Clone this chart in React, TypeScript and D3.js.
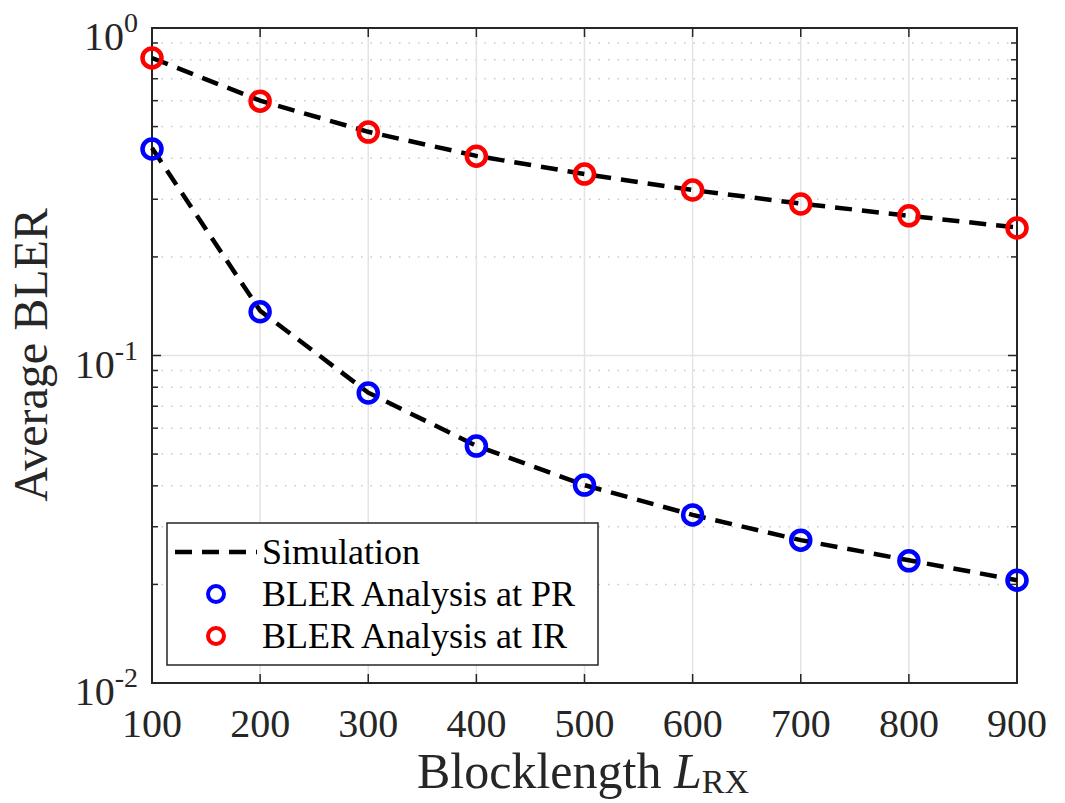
import { useRef, useEffect } from 'react';
import * as d3 from 'd3';

const blocklengths = [100, 200, 300, 400, 500, 600, 700, 800, 900];
const simPR = [0.43, 0.137, 0.077, 0.053, 0.0402, 0.0326, 0.0273, 0.0237, 0.0206];
const simIR = [0.81, 0.6, 0.482, 0.407, 0.358, 0.32, 0.291, 0.267, 0.246];
const analysisPR = [0.427, 0.136, 0.0768, 0.0529, 0.0402, 0.0326, 0.0273, 0.0236, 0.0206];
const analysisIR = [0.81, 0.598, 0.481, 0.406, 0.358, 0.32, 0.29, 0.267, 0.245];
const xTicks = [100, 200, 300, 400, 500, 600, 700, 800, 900];
const yDecades = [1, 0.1, 0.01];
const yExponents = ['0', '-1', '-2'];

export default function App() {
  const ref = useRef<SVGSVGElement>(null);

  useEffect(() => {
    const svg = d3.select(ref.current);
    svg.selectAll('*').remove();

    const W = 1065, H = 803;
    const left = 152, right = 1017, top = 28, bottom = 683;
    const font = 'Liberation Serif, DejaVu Serif, serif';
    const axisColor = '#262626';

    const x = d3.scaleLinear().domain([100, 900]).range([left, right]);
    const y = d3.scaleLog().domain([0.01, 1]).range([bottom, top]);

    svg.append('rect').attr('width', W).attr('height', H).attr('fill', '#fff');

    // minor grid (dotted) and minor ticks
    const minors: number[] = [];
    [0.01, 0.1].forEach(d => { for (let k = 2; k <= 9; k++) minors.push(d * k); });
    const g = svg.append('g');
    minors.forEach(v => {
      g.append('line').attr('x1', left).attr('x2', right).attr('y1', y(v)).attr('y2', y(v))
        .attr('stroke', '#c8c8c8').attr('stroke-width', 1.5).attr('stroke-dasharray', '1.5,8');
      g.append('line').attr('x1', left).attr('x2', left + 6).attr('y1', y(v)).attr('y2', y(v))
        .attr('stroke', axisColor).attr('stroke-width', 1.5);
      g.append('line').attr('x1', right).attr('x2', right - 6).attr('y1', y(v)).attr('y2', y(v))
        .attr('stroke', axisColor).attr('stroke-width', 1.5);
    });

    // major grid
    xTicks.forEach(t => {
      g.append('line').attr('x1', x(t)).attr('x2', x(t)).attr('y1', top).attr('y2', bottom)
        .attr('stroke', '#e3e3e3').attr('stroke-width', 1.5);
    });
    yDecades.forEach(t => {
      g.append('line').attr('x1', left).attr('x2', right).attr('y1', y(t)).attr('y2', y(t))
        .attr('stroke', '#e3e3e3').attr('stroke-width', 1.5);
    });

    // major ticks
    xTicks.forEach(t => {
      g.append('line').attr('x1', x(t)).attr('x2', x(t)).attr('y1', bottom).attr('y2', bottom - 9)
        .attr('stroke', axisColor).attr('stroke-width', 1.5);
      g.append('line').attr('x1', x(t)).attr('x2', x(t)).attr('y1', top).attr('y2', top + 9)
        .attr('stroke', axisColor).attr('stroke-width', 1.5);
    });
    yDecades.forEach(t => {
      g.append('line').attr('x1', left).attr('x2', left + 9).attr('y1', y(t)).attr('y2', y(t))
        .attr('stroke', axisColor).attr('stroke-width', 1.5);
      g.append('line').attr('x1', right).attr('x2', right - 9).attr('y1', y(t)).attr('y2', y(t))
        .attr('stroke', axisColor).attr('stroke-width', 1.5);
    });

    // box
    g.append('rect').attr('x', left).attr('y', top).attr('width', right - left).attr('height', bottom - top)
      .attr('fill', 'none').attr('stroke', axisColor).attr('stroke-width', 2);

    // simulation lines
    const line = d3.line<number>().x((_, i) => x(blocklengths[i])).y(d => y(d));
    [simIR, simPR].forEach(s => {
      svg.append('path').attr('d', line(s)).attr('fill', 'none').attr('stroke', '#000')
        .attr('stroke-width', 4.5).attr('stroke-dasharray', '17,10');
    });

    // analysis markers
    const markers = (vals: number[], color: string) => {
      vals.forEach((v, i) => {
        svg.append('circle').attr('cx', x(blocklengths[i])).attr('cy', y(v)).attr('r', 9.5)
          .attr('fill', 'none').attr('stroke', color).attr('stroke-width', 4.5);
      });
    };
    markers(analysisPR, '#0000ff');
    markers(analysisIR, '#ff0000');

    // x tick labels
    xTicks.forEach(t => {
      svg.append('text').attr('x', x(t)).attr('y', 737).attr('text-anchor', 'middle')
        .style('font-family', font).attr('font-size', 40).attr('fill', axisColor).text(t);
    });
    // y tick labels
    yDecades.forEach((t, i) => {
      const txt = svg.append('text').attr('x', left - 14).attr('y', y(t) + 22).attr('text-anchor', 'end')
        .style('font-family', font).attr('font-size', 40).attr('fill', axisColor);
      txt.append('tspan').text('10');
      txt.append('tspan').attr('dy', -18).attr('font-size', 28).text(yExponents[i]);
    });

    // axis labels
    const xl = svg.append('text').attr('x', 583).attr('y', 788).attr('text-anchor', 'middle')
      .style('font-family', font).attr('font-size', 50).attr('fill', axisColor);
    xl.append('tspan').text('Blocklength ');
    xl.append('tspan').attr('font-style', 'italic').text('L');
    xl.append('tspan').attr('dy', 5).attr('font-size', 34).text('RX');

    svg.append('text').attr('transform', `translate(47,355) rotate(-90)`)
      .attr('text-anchor', 'middle').style('font-family', font).attr('font-size', 48)
      .attr('fill', axisColor).text('Average BLER');

    // legend
    const lg = svg.append('g');
    lg.append('rect').attr('x', 167).attr('y', 523).attr('width', 431).attr('height', 142)
      .attr('fill', '#fff').attr('stroke', axisColor).attr('stroke-width', 1.5);
    lg.append('line').attr('x1', 175).attr('x2', 257).attr('y1', 552).attr('y2', 552)
      .attr('stroke', '#000').attr('stroke-width', 4.5).attr('stroke-dasharray', '17,10');
    lg.append('circle').attr('cx', 216).attr('cy', 594).attr('r', 8).attr('fill', 'none')
      .attr('stroke', '#0000ff').attr('stroke-width', 4);
    lg.append('circle').attr('cx', 216).attr('cy', 636).attr('r', 8).attr('fill', 'none')
      .attr('stroke', '#ff0000').attr('stroke-width', 4);
    const labels = ['Simulation', 'BLER Analysis at PR', 'BLER Analysis at IR'];
    labels.forEach((l, i) => {
      lg.append('text').attr('x', 262).attr('y', 564 + i * 42).style('font-family', font)
        .attr('font-size', 36).attr('fill', '#000').text(l);
    });
  }, []);

  return (
    <svg ref={ref} width={1065} height={803}
      style={{ position: 'absolute', left: 0, top: 0, display: 'block' }} />
  );
}
